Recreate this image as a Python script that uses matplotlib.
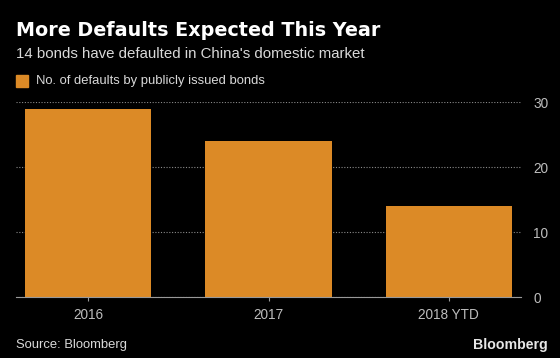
import matplotlib
matplotlib.use('Agg')
import matplotlib.pyplot as plt
from matplotlib.patches import Rectangle

categories = ["2016", "2017", "2018 YTD"]
defaults = [29, 24, 14]
y_ticks = [0, 10, 20, 30]

BG = "black"
BAR = "#dc8a26"
TXT = "#d9d9d9"
TICK = "#bdbdbd"
FONT = "Liberation Sans"

fig = plt.figure(figsize=(5.6, 3.58), dpi=100, facecolor=BG)
ax = fig.add_axes([16 / 560, 1 - 297.3 / 358, (521 - 16) / 560, (297.3 - 102.3) / 358])
ax.set_facecolor(BG)

x = range(len(categories))
ax.bar(x, defaults, width=0.7, color=BAR, zorder=2)

ax.set_xlim(-0.4, 2.4)
ax.set_ylim(0, 30)
ax.set_xticks(list(x))
ax.set_xticklabels(categories, family=FONT)
ax.set_yticks(y_ticks)
ax.set_yticklabels([str(t) for t in y_ticks], family=FONT)
ax.yaxis.tick_right()
ax.tick_params(axis='y', length=0, pad=9, colors=TICK, labelsize=9.8)
ax.tick_params(axis='x', length=3, width=0.8, color="#999999", pad=5,
               labelcolor=TICK, labelsize=9.8)

ax.grid(axis='y', color="#8a8a8a", linestyle=(0, (1, 1.5)), linewidth=0.8, zorder=1)
for side in ["top", "right", "left"]:
    ax.spines[side].set_visible(False)
ax.spines["bottom"].set_color("#999999")
ax.spines["bottom"].set_linewidth(0.8)

# titles
fig.text(16 / 560, 1 - 36 / 358, "More Defaults Expected This Year", color="white",
         fontsize=13.8, fontweight="bold", ha="left", va="baseline")
fig.text(16 / 560, 1 - 58.5 / 358, "14 bonds have defaulted in China's domestic market",
         color=TXT, fontsize=10.8, family=FONT, ha="left", va="baseline")

# legend
fig.patches.append(Rectangle((16 / 560, 1 - 87 / 358), 12 / 560, 12 / 358,
                             transform=fig.transFigure, color=BAR, figure=fig))
fig.text(36 / 560, 1 - 81 / 358, "No. of defaults by publicly issued bonds",
         color=TXT, fontsize=9.4, family=FONT, ha="left", va="center")

# footer
fig.text(16 / 560, 1 - 345 / 358, "Source: Bloomberg", color=TXT, fontsize=9.4,
         family=FONT, ha="left", va="center")
fig.text(548 / 560, 1 - 345 / 358, "Bloomberg", color="#e6e6e6", fontsize=10.2,
         family=FONT, fontweight="bold", ha="right", va="center")

plt.savefig("out.png", dpi=100, facecolor=BG)
plt.close()
